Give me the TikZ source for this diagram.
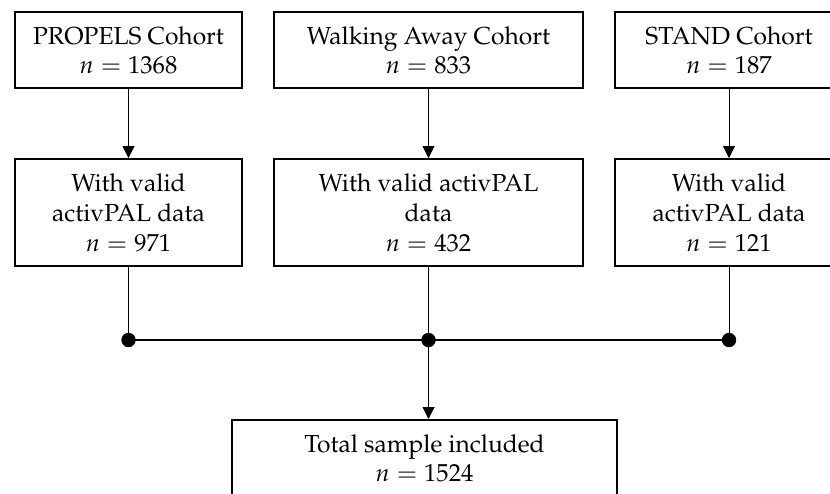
\documentclass[tikz,border=0pt]{standalone}
\usepackage[T1]{fontenc}
\usepackage{mathpazo}
\usetikzlibrary{arrows.meta, positioning}
\tikzstyle{cohort} = [rectangle, minimum width=113.5pt, minimum height=38pt, text centered, align=center, draw=black, line width=1pt, font=\fontsize{12.3}{14.5}\selectfont]
\tikzstyle{valid} = [cohort, minimum height=53.5pt, font=\fontsize{12.3}{15}\selectfont]
\tikzstyle{arrow} = [line width=0.5pt, -{Triangle[length=6pt, width=6pt]}]
\tikzstyle{line} = [line width=0.5pt]
\tikzstyle{bus} = [line width=1pt]

\begin{document}
\begin{tikzpicture}[node distance=150pt]
            \useasboundingbox (0,0) rectangle (415pt,-246.5pt);
            \node (propels) [cohort] at (64.25pt,-25pt) {PROPELS Cohort\\$n = 1368$};
            \node (walking) [cohort, minimum width=154.5pt, right of=propels] {Walking Away Cohort\\$n = 833$};
            \node (stand) [cohort, minimum width=114pt, right of=walking, xshift=0.25pt] {STAND Cohort\\$n = 187$};
            \node (propelsvalid) [valid, below of=propels, node distance=81.25pt] {With valid\\activPAL data\\$n = 971$};
            \node (walkingvalid) [valid, minimum width=154.5pt, below of=walking, node distance=81.25pt] {With valid activPAL\\data\\$n = 432$};
            \node (standvalid) [valid, minimum width=114pt, below of=stand, node distance=81.25pt] {With valid\\activPAL data\\$n = 121$};
            \node (total) [cohort, minimum width=192.5pt, below of=walkingvalid, node distance=122.75pt, xshift=-2pt] {Total sample included\\$n = 1524$};
            \coordinate (joinleft) at (propelsvalid |- 0,-170pt);
            \coordinate (joinmid) at (walkingvalid |- 0,-170pt);
            \coordinate (joinright) at (standvalid |- 0,-170pt);
            \draw [arrow] (propels) -- (propelsvalid);
            \draw [arrow] (walking) -- (walkingvalid);
            \draw [arrow] (stand) -- (standvalid);
            \draw [line] (propelsvalid) -- (joinleft);
            \draw [line] (walkingvalid) -- (joinmid);
            \draw [line] (standvalid) -- (joinright);
            \draw [bus] (joinleft) -- (joinright);
            \fill (joinleft) circle (3.6pt);
            \fill (joinmid) circle (3.6pt);
            \fill (joinright) circle (3.6pt);
            \draw [arrow] (joinmid) -- (joinmid |- total.north);
        \end{tikzpicture}
\end{document}
